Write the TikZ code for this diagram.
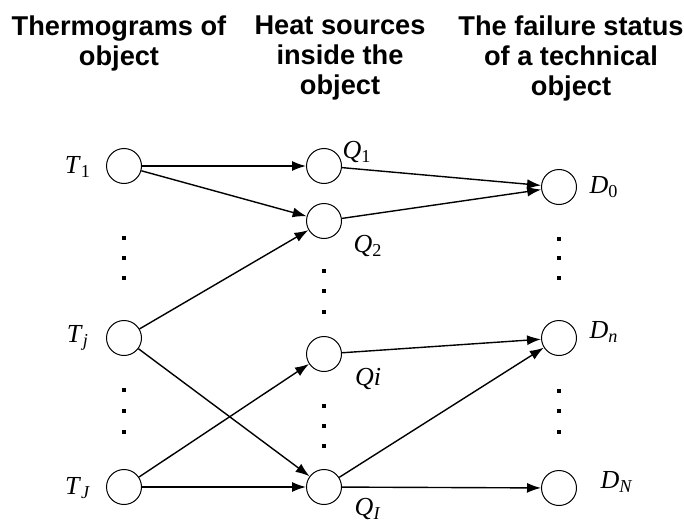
\documentclass[tikz,border=0pt]{standalone}
\usepackage{fontspec}
\setmainfont{Liberation Serif}
\newfontfamily\headfont{Liberation Sans}
\usetikzlibrary{arrows.meta}
\newcommand{\lbl}[2]{\textit{#1}\textsubscript{#2}}
\begin{document}
\begin{tikzpicture}[x=0.5pt,y=-0.5pt,
  unit/.style={circle,draw,line width=0.5pt,minimum size=17.5pt,inner sep=0pt},
  head/.style={font=\headfont\bfseries\fontsize{13.6}{15.2}\selectfont,align=center,anchor=north,inner sep=0pt},
  lab/.style={font=\fontsize{13}{14}\selectfont,inner sep=0pt},
  dotm/.style={fill=black,inner sep=0pt,minimum size=2pt,rectangle},
  arr/.style={line width=0.7pt,-{Latex[length=7pt,width=5pt]}}]
\useasboundingbox (0,0) rectangle (684,524);
% headings
\node[head] (h1) at (119,15) {Thermograms of\\object};
\node[head] (h2) at (340,15) {Heat sources\\inside the\\object};
\node[head] (h3) at (571,15) {The failure status\\of a technical\\object};
% nodes
\node[unit] (T1) at (124,166) {};
\node[unit] (Tj) at (124,338) {};
\node[unit] (TJ) at (124,487) {};
\node[unit] (Q1) at (324,166) {};
\node[unit] (Q2) at (324,221) {};
\node[unit] (Qi) at (324,354) {};
\node[unit] (QI) at (324,487) {};
\node[unit] (D0) at (559,187) {};
\node[unit] (Dn) at (559,338) {};
\node[unit] (DN) at (559,488) {};
% labels
\node[lab] (lT1) at (78,167) {\lbl{T}{1}};
\node[lab] (lTj) at (78,338) {\lbl{T}{\textit{j}}};
\node[lab] (lTJ) at (78,488) {\lbl{T}{\textit{J}}};
\node[lab] (lQ1) at (357,152) {\lbl{Q}{1}};
\node[lab] (lQ2) at (368,246) {\lbl{Q}{2}};
\node[lab] (lQi) at (368,379) {\textit{Qi}};
\node[lab] (lQI) at (368,509) {\lbl{Q}{\textit{I}}};
\node[lab] (lD0) at (604,187) {\lbl{D}{0}};
\node[lab] (lDn) at (604,332) {\lbl{D}{\textit{n}}};
\node[lab] (lDN) at (617,482) {\lbl{D}{\textit{N}}};
% dots
\foreach \n/\x/\y in {a1/124/238, a2/124/258, a3/124/278,
                      b1/124/390, b2/124/411, b3/124/432,
                      c1/324/271, c2/324/291, c3/324/312,
                      d1/324/406, d2/324/426, d3/324/446,
                      e1/559/239, e2/559/258, e3/559/278,
                      f1/559/391, f2/559/411, f3/559/432}
  \node[dotm] (\n) at (\x,\y) {};
% edges
\draw[arr] (T1) -- (Q1);
\draw[arr] (T1) -- (Q2);
\draw[arr] (Tj) -- (Q2);
\draw[arr] (Tj) -- (QI);
\draw[arr] (TJ) -- (Qi);
\draw[arr] (TJ) -- (QI);
\draw[arr] (Q1) -- (D0);
\draw[arr] (Q2) -- (D0);
\draw[arr] (Qi) -- (Dn);
\draw[arr] (QI) -- (Dn);
\draw[arr] (QI) -- (DN);
\end{tikzpicture}
\end{document}
